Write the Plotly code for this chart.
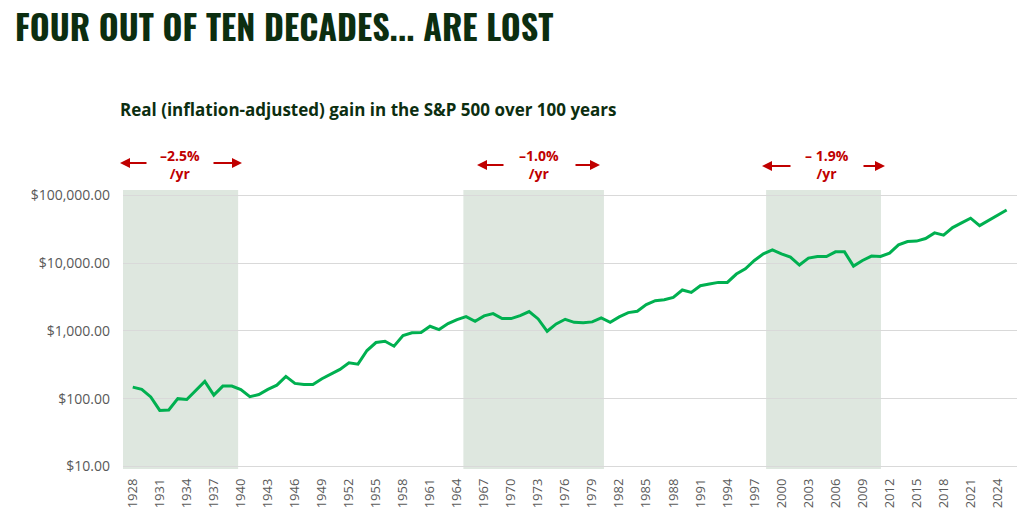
import plotly.graph_objects as go

years = list(range(1928, 2026))
real_value = [
    148, 137, 106, 67, 68, 100, 97, 134, 180, 113,          # 1928-1937
    153, 153, 136, 107, 115, 137, 158, 213, 168, 162,       # 1938-1947
    162, 197, 233, 270, 338, 323, 513, 673, 703, 594,       # 1948-1957
    853, 935, 944, 1169, 1045, 1280, 1466, 1623, 1384, 1662,  # 1958-1967
    1796, 1517, 1517, 1679, 1923, 1500, 986, 1267, 1482, 1337,  # 1968-1977
    1312, 1356, 1553, 1337, 1607, 1858, 1943, 2436, 2791, 2886,  # 1978-1987
    3121, 4009, 3697, 4637, 4909, 5188, 5188, 6887, 8245, 10916,  # 1988-1997
    13700, 15700, 13700, 12250, 9350, 11850, 12500, 12500, 14650, 14650,  # 1998-2007
    9030, 10916, 12680, 12500, 14030, 18580, 20800, 21080, 23030, 27900,  # 2008-2017
    25800, 33400, 39200, 45900, 35700, 42300, 51300, 60800,  # 2018-2025
]

x_tick_years = list(range(1928, 2025, 3))
x_tick_labels = [str(y) for y in x_tick_years]
y_tick_vals = [10, 100, 1000, 10000, 100000]
y_tick_labels = ["$10.00", "$100.00", "$1,000.00", "$10,000.00", "$100,000.00"]

lost_start = [1926.9, 1964.7, 1998.3]
lost_end = [1939.7, 1980.3, 2011.05]
lost_rates = ["\u20132.5%", "\u20131.0%", "\u2013 1.9%"]

title_text = "FOUR OUT OF TEN DECADES... ARE LOST"
subtitle_text = "Real (inflation-adjusted) gain in the S&P 500 over 100 years"

OFF = 8  # page body margin
W, H = 1025 - OFF, 527 - OFF
# plot area in page pixels
L, R, T, B = 123 - OFF, 1018 - OFF, 190 - OFF, 469.3 - OFF

def px(xp):
    return (xp - OFF - L) / (R - L)

def py(yp):
    return (B - (yp - OFF)) / (B - T)

GREEN = "#00b050"
SHADE = "#dee7df"
RED = "#c00000"
DARK = "#0c2e10"
GRAY = "#595959"

fig = go.Figure()
fig.add_trace(go.Scatter(
    x=years, y=real_value, mode="lines",
    line=dict(color=GREEN, width=3), hoverinfo="skip", showlegend=False,
))

shapes = []
for s, e in zip(lost_start, lost_end):
    shapes.append(dict(type="rect", xref="x", yref="paper", x0=s, x1=e, y0=0, y1=1,
                       fillcolor=SHADE, line=dict(width=0), layer="below"))

annotations = [
    dict(text=title_text, xref="paper", yref="paper", x=px(13), y=py(25),
         xanchor="left", yanchor="middle", showarrow=False,
         font=dict(family="Oswald, 'Liberation Sans Narrow', 'Roboto Condensed', 'DejaVu Sans Condensed', 'Liberation Sans'",
                   size=34, color=DARK, weight=700)),
    dict(text=subtitle_text, xref="paper", yref="paper", x=px(118), y=py(109),
         xanchor="left", yanchor="middle", showarrow=False,
         font=dict(family="'Open Sans'", size=17, color=DARK, weight=700)),
]

text_centers = [180, 539, 827]
left_arrows = [(120, 148, 163), (477, 505, 165), (762, 792, 166)]
right_arrows = [(212, 242, 163), (574, 600, 165), (862, 885, 166)]
for rate, cx, la, ra in zip(lost_rates, text_centers, left_arrows, right_arrows):
    annotations.append(dict(text=rate + "<br>/yr", xref="paper", yref="paper",
                            x=px(cx), y=py(164), xanchor="center", yanchor="middle",
                            showarrow=False, align="center",
                            font=dict(family="'Open Sans'", size=14, color=RED, weight=700)))
    annotations.append(dict(text="", xref="paper", yref="paper", x=px(la[0]), y=py(la[2]),
                            ax=la[1] - la[0], ay=0, showarrow=True, arrowhead=2,
                            arrowsize=1, arrowwidth=2, arrowcolor=RED, standoff=0))
    annotations.append(dict(text="", xref="paper", yref="paper", x=px(ra[1]), y=py(ra[2]),
                            ax=ra[0] - ra[1], ay=0, showarrow=True, arrowhead=2,
                            arrowsize=1, arrowwidth=2, arrowcolor=RED, standoff=0))

fig.update_layout(
    width=W, height=H,
    margin=dict(l=L, r=W - R, t=T, b=H - B, pad=0),
    paper_bgcolor="white", plot_bgcolor="white",
    shapes=shapes, annotations=annotations,
    showlegend=False,
    xaxis=dict(range=[1926.92, 2026.26], tickvals=x_tick_years, ticktext=x_tick_labels,
               tickangle=-90, showgrid=False, zeroline=False, showline=False,
               ticks="", ticklabelstandoff=6,
               tickfont=dict(family="'Open Sans'", size=13, color=GRAY), automargin=False),
    yaxis=dict(type="log", range=[0.962, 5.078], tickvals=y_tick_vals, ticktext=y_tick_labels,
               showgrid=True, gridcolor="#d9d9d9", gridwidth=1, zeroline=False, showline=False,
               ticks="", ticklabelstandoff=12,
               tickfont=dict(family="'Open Sans'", size=14, color=GRAY), automargin=False),
)

fig.write_html("out.html")
